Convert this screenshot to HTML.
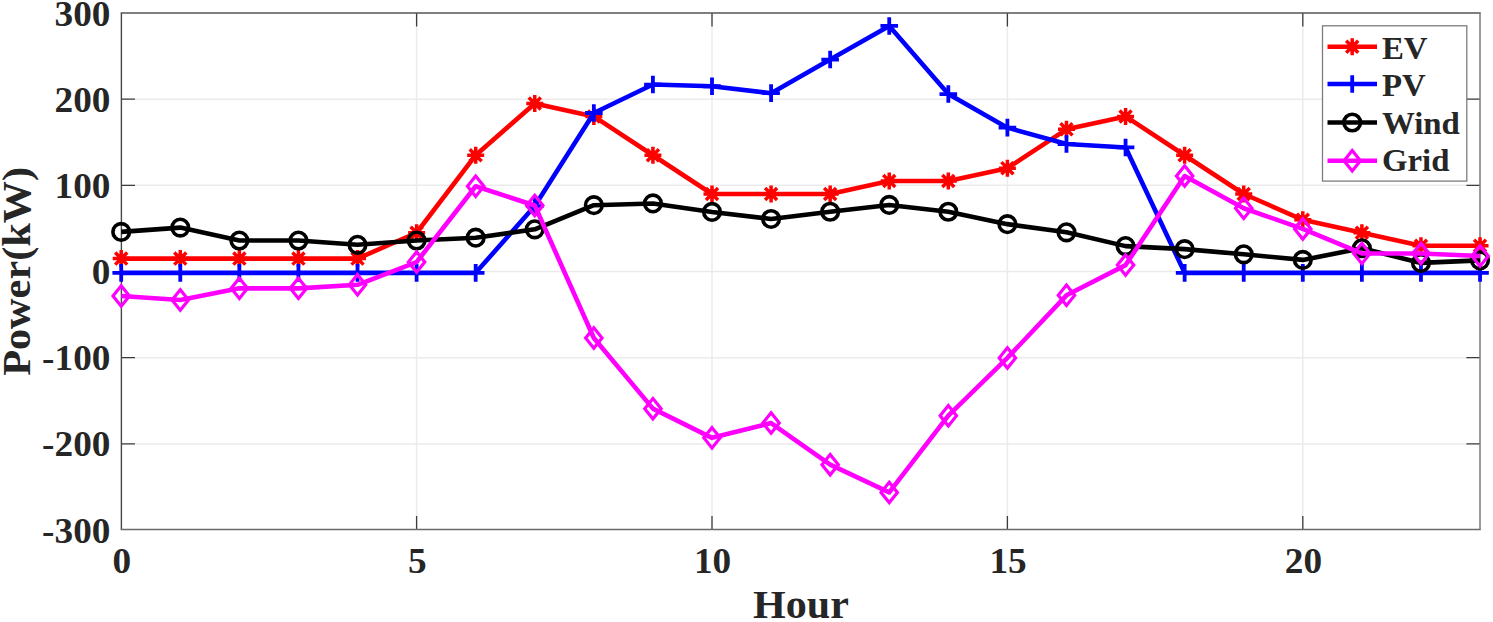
<!DOCTYPE html><html><head><meta charset="utf-8"><style>html,body{margin:0;padding:0;background:#fff;}svg{display:block;}</style></head><body>
<svg width="1493" height="622" viewBox="0 0 1493 622">
<rect x="0" y="0" width="1493" height="622" fill="#fff"/>
<path d="M121.4,99.20H1480.0 M121.4,185.37H1480.0 M121.4,271.54H1480.0 M121.4,357.71H1480.0 M121.4,443.88H1480.0 M416.60,13.0V529.6 M712.00,13.0V529.6 M1007.40,13.0V529.6 M1302.80,13.0V529.6" stroke="#ebebeb" stroke-width="1.5" fill="none"/>
<path d="M121.4,99.20h13.6M1480.0,99.20h-13.6 M121.4,185.37h13.6M1480.0,185.37h-13.6 M121.4,271.54h13.6M1480.0,271.54h-13.6 M121.4,357.71h13.6M1480.0,357.71h-13.6 M121.4,443.88h13.6M1480.0,443.88h-13.6 M416.60,529.6v-13.6M416.60,13.0v13.6 M712.00,529.6v-13.6M712.00,13.0v13.6 M1007.40,529.6v-13.6M1007.40,13.0v13.6 M1302.80,529.6v-13.6M1302.80,13.0v13.6" stroke="#3d3d3d" stroke-width="1.3" fill="none"/>
<path d="M121.4,529.6V13.0" stroke="#474747" stroke-width="1.4" fill="none"/>
<path d="M120.7,13.0H1480.7" stroke="#555" stroke-width="1.4" fill="none"/>
<path d="M1480.0,13.0V529.6" stroke="#7a7a7a" stroke-width="1.5" fill="none"/>
<path d="M120.7,529.6H1480.7" stroke="#6a6a6a" stroke-width="1.5" fill="none"/>
<polyline points="121.20,258.61 180.28,258.61 239.36,258.61 298.44,258.61 357.52,258.61 416.60,232.76 475.68,155.21 534.76,103.51 593.84,116.43 652.92,155.21 712.00,193.99 771.08,193.99 830.16,193.99 889.24,181.06 948.32,181.06 1007.40,168.14 1066.48,129.36 1125.56,116.43 1184.64,155.21 1243.72,193.99 1302.80,219.84 1361.88,232.76 1420.96,245.69 1480.04,245.69" stroke="#ff0000" stroke-width="4.6" fill="none" stroke-linejoin="round" stroke-linecap="butt"/>
<path d="M112.70,258.61H129.70M121.20,250.11V267.11M115.19,252.60L127.21,264.62M115.19,264.62L127.21,252.60" stroke="#ff0000" stroke-width="3.5" fill="none"/><circle cx="121.20" cy="258.61" r="4.6" fill="#ff0000"/><path d="M171.78,258.61H188.78M180.28,250.11V267.11M174.27,252.60L186.29,264.62M174.27,264.62L186.29,252.60" stroke="#ff0000" stroke-width="3.5" fill="none"/><circle cx="180.28" cy="258.61" r="4.6" fill="#ff0000"/><path d="M230.86,258.61H247.86M239.36,250.11V267.11M233.35,252.60L245.37,264.62M233.35,264.62L245.37,252.60" stroke="#ff0000" stroke-width="3.5" fill="none"/><circle cx="239.36" cy="258.61" r="4.6" fill="#ff0000"/><path d="M289.94,258.61H306.94M298.44,250.11V267.11M292.43,252.60L304.45,264.62M292.43,264.62L304.45,252.60" stroke="#ff0000" stroke-width="3.5" fill="none"/><circle cx="298.44" cy="258.61" r="4.6" fill="#ff0000"/><path d="M349.02,258.61H366.02M357.52,250.11V267.11M351.51,252.60L363.53,264.62M351.51,264.62L363.53,252.60" stroke="#ff0000" stroke-width="3.5" fill="none"/><circle cx="357.52" cy="258.61" r="4.6" fill="#ff0000"/><path d="M408.10,232.76H425.10M416.60,224.26V241.26M410.59,226.75L422.61,238.77M410.59,238.77L422.61,226.75" stroke="#ff0000" stroke-width="3.5" fill="none"/><circle cx="416.60" cy="232.76" r="4.6" fill="#ff0000"/><path d="M467.18,155.21H484.18M475.68,146.71V163.71M469.67,149.20L481.69,161.22M469.67,161.22L481.69,149.20" stroke="#ff0000" stroke-width="3.5" fill="none"/><circle cx="475.68" cy="155.21" r="4.6" fill="#ff0000"/><path d="M526.26,103.51H543.26M534.76,95.01V112.01M528.75,97.50L540.77,109.52M528.75,109.52L540.77,97.50" stroke="#ff0000" stroke-width="3.5" fill="none"/><circle cx="534.76" cy="103.51" r="4.6" fill="#ff0000"/><path d="M585.34,116.43H602.34M593.84,107.93V124.93M587.83,110.42L599.85,122.44M587.83,122.44L599.85,110.42" stroke="#ff0000" stroke-width="3.5" fill="none"/><circle cx="593.84" cy="116.43" r="4.6" fill="#ff0000"/><path d="M644.42,155.21H661.42M652.92,146.71V163.71M646.91,149.20L658.93,161.22M646.91,161.22L658.93,149.20" stroke="#ff0000" stroke-width="3.5" fill="none"/><circle cx="652.92" cy="155.21" r="4.6" fill="#ff0000"/><path d="M703.50,193.99H720.50M712.00,185.49V202.49M705.99,187.98L718.01,200.00M705.99,200.00L718.01,187.98" stroke="#ff0000" stroke-width="3.5" fill="none"/><circle cx="712.00" cy="193.99" r="4.6" fill="#ff0000"/><path d="M762.58,193.99H779.58M771.08,185.49V202.49M765.07,187.98L777.09,200.00M765.07,200.00L777.09,187.98" stroke="#ff0000" stroke-width="3.5" fill="none"/><circle cx="771.08" cy="193.99" r="4.6" fill="#ff0000"/><path d="M821.66,193.99H838.66M830.16,185.49V202.49M824.15,187.98L836.17,200.00M824.15,200.00L836.17,187.98" stroke="#ff0000" stroke-width="3.5" fill="none"/><circle cx="830.16" cy="193.99" r="4.6" fill="#ff0000"/><path d="M880.74,181.06H897.74M889.24,172.56V189.56M883.23,175.05L895.25,187.07M883.23,187.07L895.25,175.05" stroke="#ff0000" stroke-width="3.5" fill="none"/><circle cx="889.24" cy="181.06" r="4.6" fill="#ff0000"/><path d="M939.82,181.06H956.82M948.32,172.56V189.56M942.31,175.05L954.33,187.07M942.31,187.07L954.33,175.05" stroke="#ff0000" stroke-width="3.5" fill="none"/><circle cx="948.32" cy="181.06" r="4.6" fill="#ff0000"/><path d="M998.90,168.14H1015.90M1007.40,159.64V176.64M1001.39,162.13L1013.41,174.15M1001.39,174.15L1013.41,162.13" stroke="#ff0000" stroke-width="3.5" fill="none"/><circle cx="1007.40" cy="168.14" r="4.6" fill="#ff0000"/><path d="M1057.98,129.36H1074.98M1066.48,120.86V137.86M1060.47,123.35L1072.49,135.37M1060.47,135.37L1072.49,123.35" stroke="#ff0000" stroke-width="3.5" fill="none"/><circle cx="1066.48" cy="129.36" r="4.6" fill="#ff0000"/><path d="M1117.06,116.43H1134.06M1125.56,107.93V124.93M1119.55,110.42L1131.57,122.44M1119.55,122.44L1131.57,110.42" stroke="#ff0000" stroke-width="3.5" fill="none"/><circle cx="1125.56" cy="116.43" r="4.6" fill="#ff0000"/><path d="M1176.14,155.21H1193.14M1184.64,146.71V163.71M1178.63,149.20L1190.65,161.22M1178.63,161.22L1190.65,149.20" stroke="#ff0000" stroke-width="3.5" fill="none"/><circle cx="1184.64" cy="155.21" r="4.6" fill="#ff0000"/><path d="M1235.22,193.99H1252.22M1243.72,185.49V202.49M1237.71,187.98L1249.73,200.00M1237.71,200.00L1249.73,187.98" stroke="#ff0000" stroke-width="3.5" fill="none"/><circle cx="1243.72" cy="193.99" r="4.6" fill="#ff0000"/><path d="M1294.30,219.84H1311.30M1302.80,211.34V228.34M1296.79,213.83L1308.81,225.85M1296.79,225.85L1308.81,213.83" stroke="#ff0000" stroke-width="3.5" fill="none"/><circle cx="1302.80" cy="219.84" r="4.6" fill="#ff0000"/><path d="M1353.38,232.76H1370.38M1361.88,224.26V241.26M1355.87,226.75L1367.89,238.77M1355.87,238.77L1367.89,226.75" stroke="#ff0000" stroke-width="3.5" fill="none"/><circle cx="1361.88" cy="232.76" r="4.6" fill="#ff0000"/><path d="M1412.46,245.69H1429.46M1420.96,237.19V254.19M1414.95,239.68L1426.97,251.70M1414.95,251.70L1426.97,239.68" stroke="#ff0000" stroke-width="3.5" fill="none"/><circle cx="1420.96" cy="245.69" r="4.6" fill="#ff0000"/><path d="M1471.54,245.69H1488.54M1480.04,237.19V254.19M1474.03,239.68L1486.05,251.70M1474.03,251.70L1486.05,239.68" stroke="#ff0000" stroke-width="3.5" fill="none"/><circle cx="1480.04" cy="245.69" r="4.6" fill="#ff0000"/>
<polyline points="121.20,272.83 180.28,272.83 239.36,272.83 298.44,272.83 357.52,272.83 416.60,272.83 475.68,272.83 534.76,206.05 593.84,112.99 652.92,84.55 712.00,86.27 771.08,93.17 830.16,59.56 889.24,25.96 948.32,94.03 1007.40,127.64 1066.48,144.01 1125.56,147.46 1184.64,272.83 1243.72,272.83 1302.80,272.83 1361.88,272.83 1420.96,272.83 1480.04,272.83" stroke="#0000ff" stroke-width="4.6" fill="none" stroke-linejoin="round" stroke-linecap="butt"/>
<path d="M112.40,272.83H130.00M121.20,264.03V281.63" stroke="#0000ff" stroke-width="3.8" fill="none"/><path d="M171.48,272.83H189.08M180.28,264.03V281.63" stroke="#0000ff" stroke-width="3.8" fill="none"/><path d="M230.56,272.83H248.16M239.36,264.03V281.63" stroke="#0000ff" stroke-width="3.8" fill="none"/><path d="M289.64,272.83H307.24M298.44,264.03V281.63" stroke="#0000ff" stroke-width="3.8" fill="none"/><path d="M348.72,272.83H366.32M357.52,264.03V281.63" stroke="#0000ff" stroke-width="3.8" fill="none"/><path d="M407.80,272.83H425.40M416.60,264.03V281.63" stroke="#0000ff" stroke-width="3.8" fill="none"/><path d="M466.88,272.83H484.48M475.68,264.03V281.63" stroke="#0000ff" stroke-width="3.8" fill="none"/><path d="M525.96,206.05H543.56M534.76,197.25V214.85" stroke="#0000ff" stroke-width="3.8" fill="none"/><path d="M585.04,112.99H602.64M593.84,104.19V121.79" stroke="#0000ff" stroke-width="3.8" fill="none"/><path d="M644.12,84.55H661.72M652.92,75.75V93.35" stroke="#0000ff" stroke-width="3.8" fill="none"/><path d="M703.20,86.27H720.80M712.00,77.47V95.07" stroke="#0000ff" stroke-width="3.8" fill="none"/><path d="M762.28,93.17H779.88M771.08,84.37V101.97" stroke="#0000ff" stroke-width="3.8" fill="none"/><path d="M821.36,59.56H838.96M830.16,50.76V68.36" stroke="#0000ff" stroke-width="3.8" fill="none"/><path d="M880.44,25.96H898.04M889.24,17.16V34.76" stroke="#0000ff" stroke-width="3.8" fill="none"/><path d="M939.52,94.03H957.12M948.32,85.23V102.83" stroke="#0000ff" stroke-width="3.8" fill="none"/><path d="M998.60,127.64H1016.20M1007.40,118.84V136.44" stroke="#0000ff" stroke-width="3.8" fill="none"/><path d="M1057.68,144.01H1075.28M1066.48,135.21V152.81" stroke="#0000ff" stroke-width="3.8" fill="none"/><path d="M1116.76,147.46H1134.36M1125.56,138.66V156.26" stroke="#0000ff" stroke-width="3.8" fill="none"/><path d="M1175.84,272.83H1193.44M1184.64,264.03V281.63" stroke="#0000ff" stroke-width="3.8" fill="none"/><path d="M1234.92,272.83H1252.52M1243.72,264.03V281.63" stroke="#0000ff" stroke-width="3.8" fill="none"/><path d="M1294.00,272.83H1311.60M1302.80,264.03V281.63" stroke="#0000ff" stroke-width="3.8" fill="none"/><path d="M1353.08,272.83H1370.68M1361.88,264.03V281.63" stroke="#0000ff" stroke-width="3.8" fill="none"/><path d="M1412.16,272.83H1429.76M1420.96,264.03V281.63" stroke="#0000ff" stroke-width="3.8" fill="none"/><path d="M1471.24,272.83H1488.84M1480.04,264.03V281.63" stroke="#0000ff" stroke-width="3.8" fill="none"/>
<polyline points="121.20,231.90 180.28,227.59 239.36,240.52 298.44,240.52 357.52,244.83 416.60,240.52 475.68,237.68 534.76,229.32 593.84,205.19 652.92,203.47 712.00,211.91 771.08,218.98 830.16,211.74 889.24,204.93 948.32,211.74 1007.40,224.15 1066.48,232.33 1125.56,246.12 1184.64,249.14 1243.72,254.31 1302.80,259.91 1361.88,248.27 1420.96,262.92 1480.04,260.34" stroke="#000000" stroke-width="4.6" fill="none" stroke-linejoin="round" stroke-linecap="butt"/>
<ellipse cx="121.20" cy="231.90" rx="8.3" ry="8.3" stroke="#000000" stroke-width="3.6" fill="none"/><ellipse cx="180.28" cy="227.59" rx="8.3" ry="8.3" stroke="#000000" stroke-width="3.6" fill="none"/><ellipse cx="239.36" cy="240.52" rx="8.3" ry="8.3" stroke="#000000" stroke-width="3.6" fill="none"/><ellipse cx="298.44" cy="240.52" rx="8.3" ry="8.3" stroke="#000000" stroke-width="3.6" fill="none"/><ellipse cx="357.52" cy="244.83" rx="8.3" ry="8.3" stroke="#000000" stroke-width="3.6" fill="none"/><ellipse cx="416.60" cy="240.52" rx="8.3" ry="8.3" stroke="#000000" stroke-width="3.6" fill="none"/><ellipse cx="475.68" cy="237.68" rx="8.3" ry="8.3" stroke="#000000" stroke-width="3.6" fill="none"/><ellipse cx="534.76" cy="229.32" rx="8.3" ry="8.3" stroke="#000000" stroke-width="3.6" fill="none"/><ellipse cx="593.84" cy="205.19" rx="8.3" ry="8.3" stroke="#000000" stroke-width="3.6" fill="none"/><ellipse cx="652.92" cy="203.47" rx="8.3" ry="8.3" stroke="#000000" stroke-width="3.6" fill="none"/><ellipse cx="712.00" cy="211.91" rx="8.3" ry="8.3" stroke="#000000" stroke-width="3.6" fill="none"/><ellipse cx="771.08" cy="218.98" rx="8.3" ry="8.3" stroke="#000000" stroke-width="3.6" fill="none"/><ellipse cx="830.16" cy="211.74" rx="8.3" ry="8.3" stroke="#000000" stroke-width="3.6" fill="none"/><ellipse cx="889.24" cy="204.93" rx="8.3" ry="8.3" stroke="#000000" stroke-width="3.6" fill="none"/><ellipse cx="948.32" cy="211.74" rx="8.3" ry="8.3" stroke="#000000" stroke-width="3.6" fill="none"/><ellipse cx="1007.40" cy="224.15" rx="8.3" ry="8.3" stroke="#000000" stroke-width="3.6" fill="none"/><ellipse cx="1066.48" cy="232.33" rx="8.3" ry="8.3" stroke="#000000" stroke-width="3.6" fill="none"/><ellipse cx="1125.56" cy="246.12" rx="8.3" ry="8.3" stroke="#000000" stroke-width="3.6" fill="none"/><ellipse cx="1184.64" cy="249.14" rx="8.3" ry="8.3" stroke="#000000" stroke-width="3.6" fill="none"/><ellipse cx="1243.72" cy="254.31" rx="8.3" ry="8.3" stroke="#000000" stroke-width="3.6" fill="none"/><ellipse cx="1302.80" cy="259.91" rx="8.3" ry="8.3" stroke="#000000" stroke-width="3.6" fill="none"/><ellipse cx="1361.88" cy="248.27" rx="8.3" ry="8.3" stroke="#000000" stroke-width="3.6" fill="none"/><ellipse cx="1420.96" cy="262.92" rx="8.3" ry="8.3" stroke="#000000" stroke-width="3.6" fill="none"/><ellipse cx="1480.04" cy="260.34" rx="8.3" ry="8.3" stroke="#000000" stroke-width="3.6" fill="none"/>
<polyline points="121.20,296.01 180.28,299.98 239.36,288.34 298.44,288.34 357.52,284.81 416.60,262.06 475.68,186.23 534.76,205.53 593.84,338.06 652.92,408.64 712.00,437.85 771.08,423.03 830.16,464.65 889.24,492.39 948.32,415.70 1007.40,357.88 1066.48,295.32 1125.56,265.08 1184.64,176.06 1243.72,208.21 1302.80,228.89 1361.88,253.44 1420.96,253.44 1480.04,256.03" stroke="#ff00ff" stroke-width="4.6" fill="none" stroke-linejoin="round" stroke-linecap="butt"/>
<path d="M121.20,285.81L129.40,296.01L121.20,306.21L113.00,296.01Z" stroke="#ff00ff" stroke-width="3.2" fill="none" stroke-linejoin="miter"/><path d="M180.28,289.78L188.48,299.98L180.28,310.18L172.08,299.98Z" stroke="#ff00ff" stroke-width="3.2" fill="none" stroke-linejoin="miter"/><path d="M239.36,278.14L247.56,288.34L239.36,298.54L231.16,288.34Z" stroke="#ff00ff" stroke-width="3.2" fill="none" stroke-linejoin="miter"/><path d="M298.44,278.14L306.64,288.34L298.44,298.54L290.24,288.34Z" stroke="#ff00ff" stroke-width="3.2" fill="none" stroke-linejoin="miter"/><path d="M357.52,274.61L365.72,284.81L357.52,295.01L349.32,284.81Z" stroke="#ff00ff" stroke-width="3.2" fill="none" stroke-linejoin="miter"/><path d="M416.60,251.86L424.80,262.06L416.60,272.26L408.40,262.06Z" stroke="#ff00ff" stroke-width="3.2" fill="none" stroke-linejoin="miter"/><path d="M475.68,176.03L483.88,186.23L475.68,196.43L467.48,186.23Z" stroke="#ff00ff" stroke-width="3.2" fill="none" stroke-linejoin="miter"/><path d="M534.76,195.33L542.96,205.53L534.76,215.73L526.56,205.53Z" stroke="#ff00ff" stroke-width="3.2" fill="none" stroke-linejoin="miter"/><path d="M593.84,327.86L602.04,338.06L593.84,348.26L585.64,338.06Z" stroke="#ff00ff" stroke-width="3.2" fill="none" stroke-linejoin="miter"/><path d="M652.92,398.44L661.12,408.64L652.92,418.84L644.72,408.64Z" stroke="#ff00ff" stroke-width="3.2" fill="none" stroke-linejoin="miter"/><path d="M712.00,427.65L720.20,437.85L712.00,448.05L703.80,437.85Z" stroke="#ff00ff" stroke-width="3.2" fill="none" stroke-linejoin="miter"/><path d="M771.08,412.83L779.28,423.03L771.08,433.23L762.88,423.03Z" stroke="#ff00ff" stroke-width="3.2" fill="none" stroke-linejoin="miter"/><path d="M830.16,454.45L838.36,464.65L830.16,474.85L821.96,464.65Z" stroke="#ff00ff" stroke-width="3.2" fill="none" stroke-linejoin="miter"/><path d="M889.24,482.19L897.44,492.39L889.24,502.59L881.04,492.39Z" stroke="#ff00ff" stroke-width="3.2" fill="none" stroke-linejoin="miter"/><path d="M948.32,405.50L956.52,415.70L948.32,425.90L940.12,415.70Z" stroke="#ff00ff" stroke-width="3.2" fill="none" stroke-linejoin="miter"/><path d="M1007.40,347.68L1015.60,357.88L1007.40,368.08L999.20,357.88Z" stroke="#ff00ff" stroke-width="3.2" fill="none" stroke-linejoin="miter"/><path d="M1066.48,285.12L1074.68,295.32L1066.48,305.52L1058.28,295.32Z" stroke="#ff00ff" stroke-width="3.2" fill="none" stroke-linejoin="miter"/><path d="M1125.56,254.88L1133.76,265.08L1125.56,275.28L1117.36,265.08Z" stroke="#ff00ff" stroke-width="3.2" fill="none" stroke-linejoin="miter"/><path d="M1184.64,165.86L1192.84,176.06L1184.64,186.26L1176.44,176.06Z" stroke="#ff00ff" stroke-width="3.2" fill="none" stroke-linejoin="miter"/><path d="M1243.72,198.01L1251.92,208.21L1243.72,218.41L1235.52,208.21Z" stroke="#ff00ff" stroke-width="3.2" fill="none" stroke-linejoin="miter"/><path d="M1302.80,218.69L1311.00,228.89L1302.80,239.09L1294.60,228.89Z" stroke="#ff00ff" stroke-width="3.2" fill="none" stroke-linejoin="miter"/><path d="M1361.88,243.24L1370.08,253.44L1361.88,263.64L1353.68,253.44Z" stroke="#ff00ff" stroke-width="3.2" fill="none" stroke-linejoin="miter"/><path d="M1420.96,243.24L1429.16,253.44L1420.96,263.64L1412.76,253.44Z" stroke="#ff00ff" stroke-width="3.2" fill="none" stroke-linejoin="miter"/><path d="M1480.04,245.83L1488.24,256.03L1480.04,266.23L1471.84,256.03Z" stroke="#ff00ff" stroke-width="3.2" fill="none" stroke-linejoin="miter"/>
<g font-family='"Liberation Serif", serif' font-weight="bold" font-size="35" fill="#262626">
<text transform="translate(110.4,25.63) scale(1.065,1)" text-anchor="end">300</text>
<text transform="translate(110.4,111.80) scale(1.065,1)" text-anchor="end">200</text>
<text transform="translate(110.4,197.97) scale(1.065,1)" text-anchor="end">100</text>
<text transform="translate(110.4,284.14) scale(1.065,1)" text-anchor="end">0</text>
<text transform="translate(110.4,370.31) scale(1.065,1)" text-anchor="end">-100</text>
<text transform="translate(110.4,456.48) scale(1.065,1)" text-anchor="end">-200</text>
<text transform="translate(110.4,542.65) scale(1.065,1)" text-anchor="end">-300</text>
<text transform="translate(121.80,573.4) scale(1.065,1)" text-anchor="middle">0</text>
<text transform="translate(417.20,573.4) scale(1.065,1)" text-anchor="middle">5</text>
<text transform="translate(712.60,573.4) scale(1.065,1)" text-anchor="middle">10</text>
<text transform="translate(1008.00,573.4) scale(1.065,1)" text-anchor="middle">15</text>
<text transform="translate(1303.40,573.4) scale(1.065,1)" text-anchor="middle">20</text>
</g>
<text transform="translate(801,617.9) scale(1.052,1)" x="0" y="0" text-anchor="middle" font-family='"Liberation Serif", serif' font-weight="bold" font-size="40" fill="#262626">Hour</text>
<text transform="translate(30.4,271.4) rotate(-90) scale(1.057,1)" x="0" y="0" text-anchor="middle" font-family='"Liberation Serif", serif' font-weight="bold" font-size="40" fill="#262626">Power(kW)</text>
<rect x="1322.5" y="25.8" width="144.3" height="155.3" fill="#fff" stroke="#7d7d7d" stroke-width="1.3"/>
<path d="M1327.5,46.8H1377" stroke="#ff0000" stroke-width="4.6"/>
<path d="M1343.70,46.80H1360.70M1352.20,38.30V55.30M1346.19,40.79L1358.21,52.81M1346.19,52.81L1358.21,40.79" stroke="#ff0000" stroke-width="3.5" fill="none"/><circle cx="1352.20" cy="46.80" r="4.6" fill="#ff0000"/>
<text transform="translate(1381.9,58.5) scale(1.06,1)" font-family='"Liberation Serif", serif' font-weight="bold" font-size="31" fill="#262626">EV</text>
<path d="M1327.5,84.0H1377" stroke="#0000ff" stroke-width="4.6"/>
<path d="M1343.40,84.00H1361.00M1352.20,75.20V92.80" stroke="#0000ff" stroke-width="3.8" fill="none"/>
<text transform="translate(1381.9,96.3) scale(1.06,1)" font-family='"Liberation Serif", serif' font-weight="bold" font-size="31" fill="#262626">PV</text>
<path d="M1327.5,122.5H1377" stroke="#000000" stroke-width="4.6"/>
<ellipse cx="1352.20" cy="122.50" rx="8.3" ry="8.3" stroke="#000000" stroke-width="3.6" fill="none"/>
<text transform="translate(1381.9,133.7) scale(1.06,1)" font-family='"Liberation Serif", serif' font-weight="bold" font-size="31" fill="#262626">Wind</text>
<path d="M1327.5,160.8H1377" stroke="#ff00ff" stroke-width="4.6"/>
<path d="M1352.20,150.60L1360.40,160.80L1352.20,171.00L1344.00,160.80Z" stroke="#ff00ff" stroke-width="3.2" fill="none" stroke-linejoin="miter"/>
<text transform="translate(1381.9,171.3) scale(1.06,1)" font-family='"Liberation Serif", serif' font-weight="bold" font-size="31" fill="#262626">Grid</text>
</svg></body></html>
